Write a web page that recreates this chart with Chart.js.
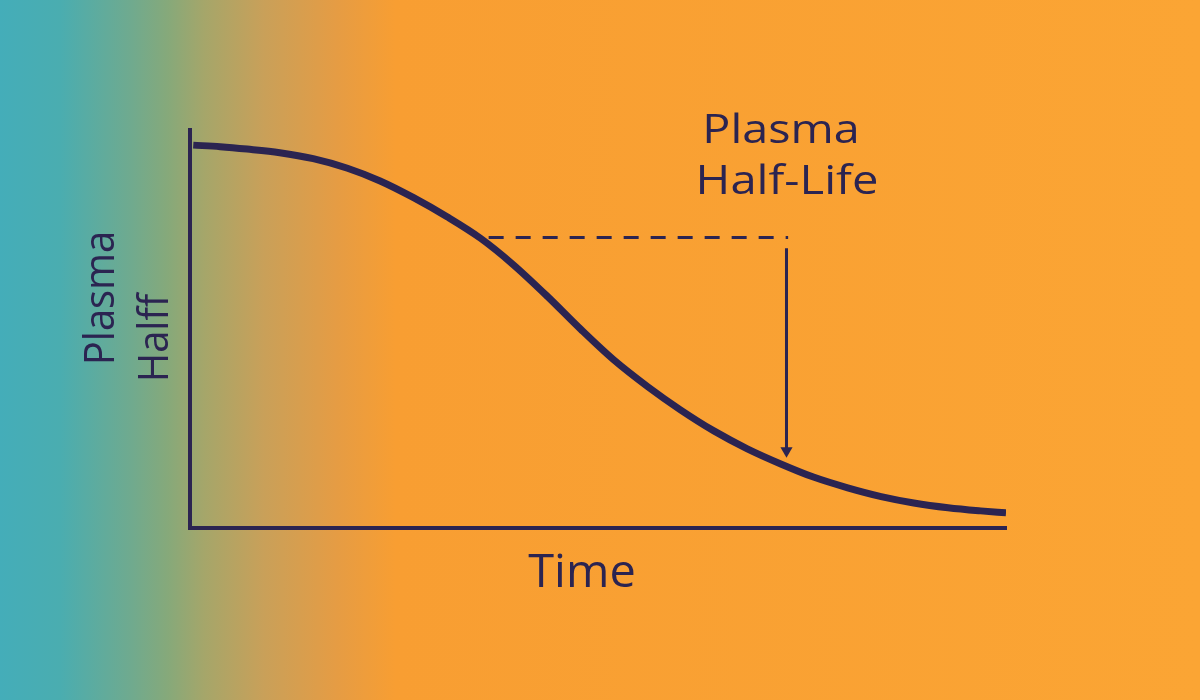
<!DOCTYPE html>
<html>
<head>
<meta charset="utf-8">
<script src="https://cdn.jsdelivr.net/npm/chart.js@4.4.0/dist/chart.umd.min.js"></script>
<style>
  html, body { margin: 0; padding: 0; background: #faa534; }
  #wrap { width: 1200px; height: 700px; }
</style>
</head>
<body>
<div id="wrap"><canvas id="myChart" width="1200" height="700"></canvas></div>
<script>
// concentration curve (time 0-10, level 0-100)
let timeValues = [0.04, 0.37, 0.70, 1.10, 1.51, 1.93, 2.33, 2.74, 3.15, 3.56, 3.96, 4.38, 4.79, 5.19, 5.61, 6.01, 6.42, 6.83, 7.24, 7.64, 8.06, 8.47, 8.87, 9.29, 9.69, 10]
let plasmaValues = [96.2, 95.8, 95.2, 94.3, 92.8, 90.4, 87.2, 83.0, 78.2, 72.8, 66.2, 58.2, 49.9, 42.3, 35.5, 29.7, 24.4, 19.9, 16.1, 12.8, 10.1, 7.9, 6.3, 5.1, 4.3, 3.8]

// half-life marker: dashed level and arrow down
let halfLevelX = [3.66, 7.33]
let halfLevelY = [73.0, 73.0]
let arrowX = [7.31, 7.31]
let arrowY = [70.3, 19.4]

let navy = '#2b2451'

let bgPlugin = {
    id: 'bg',
    beforeDraw(chart) {
        let ctx = chart.ctx
        let g = ctx.createLinearGradient(0, 0, chart.width, 0)
        g.addColorStop(0, '#44adb9')
        g.addColorStop(0.05, '#4aadb0')
        g.addColorStop(0.11, '#70aa8e')
        g.addColorStop(0.14, '#86a97a')
        g.addColorStop(0.17, '#a5a66a')
        g.addColorStop(0.22, '#c9a059')
        g.addColorStop(0.28, '#e59c44')
        g.addColorStop(0.33, '#f89e32')
        g.addColorStop(1, '#fba534')
        ctx.save()
        ctx.fillStyle = g
        ctx.fillRect(0, 0, chart.width, chart.height)
        ctx.restore()
    }
}

function drawText(ctx, txt, x, y, sx, rot) {
    ctx.save()
    ctx.translate(x, y)
    if (rot) ctx.rotate(rot)
    ctx.scale(sx, 1)
    ctx.fillText(txt, 0, 0)
    ctx.restore()
}

let textPlugin = {
    id: 'labels',
    afterDraw(chart) {
        let ctx = chart.ctx
        ctx.save()
        ctx.fillStyle = navy
        ctx.textAlign = 'center'
        ctx.textBaseline = 'alphabetic'
        ctx.font = '41px "Open Sans", "Noto Sans", sans-serif'
        drawText(ctx, 'Plasma', 781, 143, 1.14)
        drawText(ctx, 'Half-Life', 787, 194, 1.15)
        ctx.font = '46px "Open Sans", "Noto Sans", sans-serif'
        drawText(ctx, 'Time', 582, 587, 1.02)
        // rotated y label
        ctx.font = '42px "Open Sans", "Noto Sans", sans-serif'
        drawText(ctx, 'Plasma', 114, 298, 0.95, -Math.PI / 2)
        drawText(ctx, 'Halff', 168, 338, 0.95, -Math.PI / 2)
        ctx.restore()
    }
}

function pairs(xs, ys) {
    return xs.map((x, i) => ({x: x, y: ys[i]}))
}

let myChart = new Chart(document.getElementById('myChart').getContext('2d'), {
    type: 'line',
    data: {
        datasets: [
            {
                label: 'Plasma',
                data: pairs(timeValues, plasmaValues),
                borderColor: navy,
                borderWidth: 7,
                pointRadius: 0,
                cubicInterpolationMode: 'monotone',
                fill: false
            },
            {
                label: 'Half level',
                data: pairs(halfLevelX, halfLevelY),
                borderColor: navy,
                borderWidth: 3,
                borderDash: [15, 12],
                pointRadius: 0,
                tension: 0
            },
            {
                label: 'Arrow',
                data: pairs(arrowX, arrowY),
                borderColor: navy,
                borderWidth: 3,
                tension: 0,
                pointStyle: 'triangle',
                pointRotation: 180,
                pointRadius: [0, 7],
                pointBackgroundColor: navy,
                pointBorderColor: navy,
                pointBorderWidth: 0
            }
        ]
    },
    options: {
        responsive: false,
        animation: false,
        events: [],
        layout: {padding: {left: 182, top: 130, right: 194, bottom: 164}},
        plugins: {legend: {display: false}, tooltip: {enabled: false}},
        scales: {
            x: {
                type: 'linear', min: 0, max: 10,
                grid: {display: false},
                ticks: {display: false},
                border: {display: true, color: navy, width: 4}
            },
            y: {
                type: 'linear', min: 0, max: 100,
                grid: {display: false},
                ticks: {display: false},
                border: {display: true, color: navy, width: 4}
            }
        }
    },
    plugins: [bgPlugin, textPlugin]
});
</script>
</body>
</html>
